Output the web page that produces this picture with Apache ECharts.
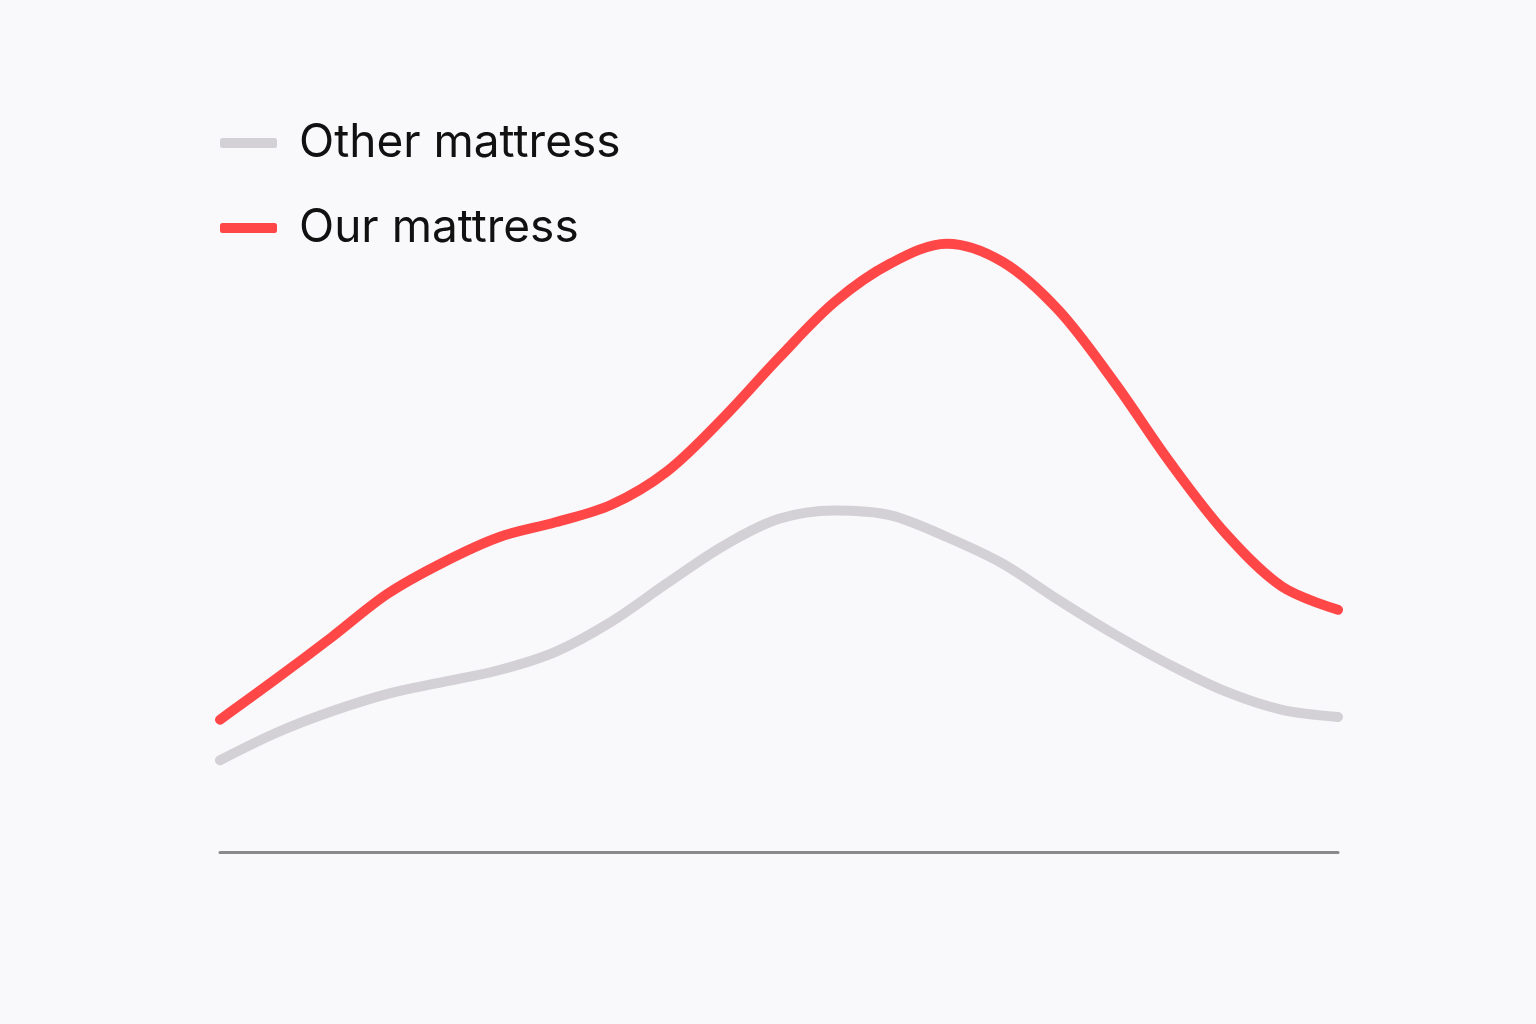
<!DOCTYPE html>
<html>
<head>
<meta charset="utf-8">
<title>Mattress comparison</title>
<script src="https://cdn.jsdelivr.net/npm/echarts@6/dist/echarts.min.js"></script>
<style>
  html, body { margin: 0; padding: 0; background: #f9f8fa; }
  #chart { width: 1536px; height: 1024px; }
</style>
</head>
<body>
<div id="chart"></div>
<script>
// Sample positions along the horizontal axis
const positions = [0,1,2,3,4,5,6,7,8,9,10,11,12,13,14,15,16,17,18,19,20];

// Series values (0–100 scale)
const otherMattress = [13.1,17.0,20.1,22.6,24.3,26.0,28.6,32.9,38.4,43.7,47.6,48.8,48.1,45.0,41.2,36.0,31.1,26.7,22.9,20.3,19.3];
const ourMattress   = [18.9,24.7,30.7,36.9,41.4,45.0,47.1,49.6,54.4,62.0,70.6,78.6,84.1,86.9,84.3,77.4,67.1,55.6,45.4,37.9,34.6];

const seriesNames = ['Other mattress', 'Our mattress'];

const toPairs = vals => positions.map((x, i) => [x, vals[i]]);

const chart = echarts.init(document.getElementById('chart'));
chart.setOption({
  backgroundColor: '#f9f8fa',
  animation: false,
  legend: {
    orient: 'vertical',
    left: 220,
    top: 120,
    padding: 0,
    itemWidth: 57,
    itemHeight: 10,
    itemGap: 39,
    icon: 'roundRect',
    textStyle: {
      fontFamily: 'Inter',
      fontSize: 46,
      lineHeight: 46,
      color: '#111111',
      padding: [0, 0, 0, 17]
    },
    data: seriesNames
  },
  grid: { left: 220, right: 198, top: 152, bottom: 172 },
  xAxis: {
    type: 'value',
    min: 0,
    max: 20,
    axisLine: { show: true, lineStyle: { color: '#8a898c', width: 3 } },
    axisTick: { show: false },
    axisLabel: { show: false },
    splitLine: { show: false }
  },
  yAxis: {
    type: 'value',
    min: 0,
    max: 100,
    show: false
  },
  series: [
    {
      name: seriesNames[0],
      type: 'line',
      smooth: 0.33,
      symbol: 'none',
      data: toPairs(otherMattress),
      itemStyle: { color: '#d3d1d5' },
      lineStyle: { color: '#d3d1d5', width: 10, cap: 'round', join: 'round' }
    },
    {
      name: seriesNames[1],
      type: 'line',
      smooth: 0.33,
      symbol: 'none',
      data: toPairs(ourMattress),
      itemStyle: { color: '#ff4747' },
      lineStyle: { color: '#ff4747', width: 10, cap: 'round', join: 'round' }
    }
  ]
});
</script>
</body>
</html>
